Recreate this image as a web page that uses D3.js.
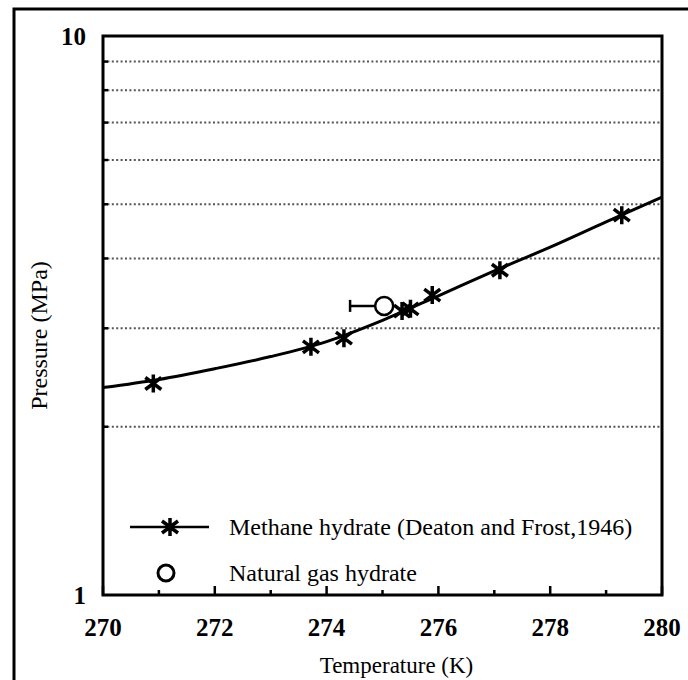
<!DOCTYPE html>
<html>
<head>
<meta charset="utf-8">
<script src="https://cdn.jsdelivr.net/npm/d3@7"></script>
<style>
  body { margin: 0; background: #fff; }
  text { font-family: "Liberation Serif", "Times New Roman", serif; fill: #000; }
</style>
</head>
<body>
<svg id="chart" width="688" height="680"></svg>
<script>
// methane hydrate equilibrium points (Deaton and Frost, 1946)
var methaneT = [270.9, 273.72, 274.31, 275.35, 275.5, 275.89, 277.1, 279.28];
var methaneP = [2.39, 2.78, 2.88, 3.22, 3.25, 3.44, 3.81, 4.78];

// fitted equilibrium curve
var curveT = [270, 271, 272, 273, 274, 275, 276, 277, 278, 279, 280];
var curveP = [2.35, 2.43, 2.54, 2.67, 2.84, 3.10, 3.43, 3.80, 4.19, 4.65, 5.15];

// natural gas hydrate point with its lower temperature error
var gasT = [275.03];
var gasP = [3.29];
var gasErrLow = [0.61];

var xTicks = [270, 272, 274, 276, 278, 280];
var xMinorTicks = [271, 273, 275, 277, 279];
var yTickLabels = [1, 10];
var yGrid = [2, 3, 4, 5, 6, 7, 8, 9];

var legendNames = ["Methane hydrate (Deaton and Frost,1946)", "Natural gas hydrate"];

var svg = d3.select("#chart"),
    margin = {top: 36, right: 26, bottom: 85, left: 103},
    width = 688 - margin.left - margin.right,
    height = 680 - margin.top - margin.bottom;

// outer frame of the figure
svg.append("rect")
    .attr("x", 14).attr("y", 9)
    .attr("width", 700).attr("height", 700)
    .attr("fill", "none").attr("stroke", "#000").attr("stroke-width", 3);

var g = svg.append("g").attr("transform", "translate(" + margin.left + "," + margin.top + ")");

var x = d3.scaleLinear().domain([270, 280]).range([0, width]);
var y = d3.scaleLog().domain([1, 10]).range([height, 0]);

// dotted grid
g.append("g").selectAll("line")
  .data(yGrid)
  .enter().append("line")
    .attr("x1", 0).attr("x2", width)
    .attr("y1", function(d) { return y(d); })
    .attr("y2", function(d) { return y(d); })
    .attr("stroke", "#555")
    .attr("stroke-width", 2)
    .attr("stroke-dasharray", "2,2.4");

// inward ticks on left axis
g.append("g").selectAll("line")
  .data(yGrid)
  .enter().append("line")
    .attr("x1", 0).attr("x2", 5)
    .attr("y1", function(d) { return y(d); })
    .attr("y2", function(d) { return y(d); })
    .attr("stroke", "#000").attr("stroke-width", 2.5);

// inward ticks on bottom axis
g.append("g").selectAll("line")
  .data(xTicks.concat(xMinorTicks))
  .enter().append("line")
    .attr("x1", function(d) { return x(d); })
    .attr("x2", function(d) { return x(d); })
    .attr("y1", height)
    .attr("y2", function(d) { return height - (d % 2 === 0 ? 9 : 5); })
    .attr("stroke", "#000").attr("stroke-width", 2.5);

// plot frame
g.append("rect")
    .attr("width", width).attr("height", height)
    .attr("fill", "none").attr("stroke", "#000").attr("stroke-width", 3);

// tick labels
g.append("g").selectAll("text")
  .data(xTicks)
  .enter().append("text")
    .attr("x", function(d) { return x(d); })
    .attr("y", height + 41)
    .attr("text-anchor", "middle")
    .attr("font-size", 25)
    .attr("font-weight", "bold")
    .text(function(d) { return d; });

g.append("g").selectAll("text")
  .data(yTickLabels)
  .enter().append("text")
    .attr("x", -17)
    .attr("y", function(d) { return y(d); })
    .attr("dy", "0.35em")
    .attr("text-anchor", "end")
    .attr("font-size", 25)
    .attr("font-weight", "bold")
    .text(function(d) { return d; });

// axis titles
g.append("text")
    .attr("x", width / 2 + 14)
    .attr("y", height + 78)
    .attr("text-anchor", "middle")
    .attr("font-size", 23)
    .text("Temperature (K)");

g.append("text")
    .attr("transform", "translate(" + (-56) + "," + (height / 2 + 20) + ") rotate(-90)")
    .attr("text-anchor", "middle")
    .attr("font-size", 24)
    .text("Pressure (MPa)");

// equilibrium curve
var line = d3.line()
    .x(function(d) { return x(d[0]); })
    .y(function(d) { return y(d[1]); })
    .curve(d3.curveMonotoneX);

g.append("path")
    .datum(d3.zip(curveT, curveP))
    .attr("d", line)
    .attr("fill", "none")
    .attr("stroke", "#000")
    .attr("stroke-width", 3);

var star = "M0,-9V9M-8,-6L8,6M-8,6L8,-6";

g.append("g").selectAll("path")
  .data(d3.zip(methaneT, methaneP))
  .enter().append("path")
    .attr("transform", function(d) { return "translate(" + x(d[0]) + "," + y(d[1]) + ")"; })
    .attr("d", star)
    .attr("fill", "none")
    .attr("stroke", "#000")
    .attr("stroke-width", 3.5);

// natural gas point with error bar
var gas = g.append("g").selectAll("g")
  .data(d3.zip(gasT, gasP, gasErrLow))
  .enter().append("g");

gas.append("line")
    .attr("x1", function(d) { return x(d[0] - d[2]); })
    .attr("x2", function(d) { return x(d[0]); })
    .attr("y1", function(d) { return y(d[1]); })
    .attr("y2", function(d) { return y(d[1]); })
    .attr("stroke", "#000").attr("stroke-width", 2.5);

gas.append("line")
    .attr("x1", function(d) { return x(d[0] - d[2]); })
    .attr("x2", function(d) { return x(d[0] - d[2]); })
    .attr("y1", function(d) { return y(d[1]) - 6; })
    .attr("y2", function(d) { return y(d[1]) + 6; })
    .attr("stroke", "#000").attr("stroke-width", 2.5);

gas.append("circle")
    .attr("cx", function(d) { return x(d[0]); })
    .attr("cy", function(d) { return y(d[1]); })
    .attr("r", 9)
    .attr("fill", "#fff")
    .attr("stroke", "#000").attr("stroke-width", 2.5);

// legend
var legend = g.append("g")
  .selectAll("g")
  .data(legendNames)
  .enter().append("g")
    .attr("transform", function(d, i) { return "translate(0," + (491 + i * 46) + ")"; });

legend.filter(function(d, i) { return i === 0; })
  .append("line")
    .attr("x1", 27).attr("x2", 106)
    .attr("stroke", "#000").attr("stroke-width", 2.5);

legend.filter(function(d, i) { return i === 0; })
  .append("path")
    .attr("transform", "translate(67,0)")
    .attr("d", star)
    .attr("fill", "none")
    .attr("stroke", "#000").attr("stroke-width", 3.5);

legend.filter(function(d, i) { return i === 1; })
  .append("circle")
    .attr("cx", 63).attr("r", 8)
    .attr("fill", "#fff")
    .attr("stroke", "#000").attr("stroke-width", 3);

legend.append("text")
    .attr("x", 126)
    .attr("dy", "0.35em")
    .attr("font-size", 24)
    .text(function(d) { return d; });
</script>
</body>
</html>
